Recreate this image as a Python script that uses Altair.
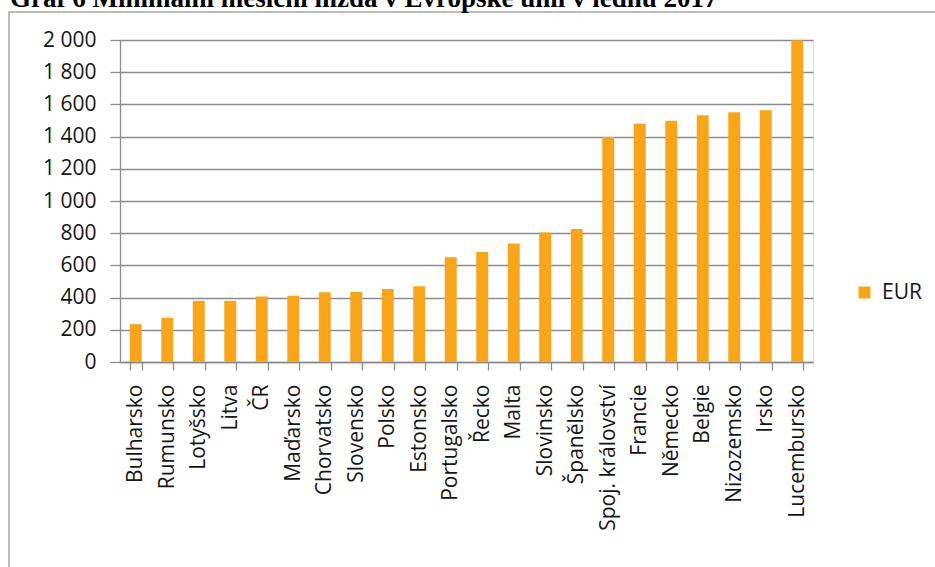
import altair as alt
import pandas as pd

# Minimum monthly wage in EU member states, January 2017 (EUR)
countries = [
    "Bulharsko", "Rumunsko", "Lotyšsko", "Litva", "ČR", "Maďarsko",
    "Chorvatsko", "Slovensko", "Polsko", "Estonsko", "Portugalsko", "Řecko",
    "Malta", "Slovinsko", "Španělsko", "Spoj. království", "Francie",
    "Německo", "Belgie", "Nizozemsko", "Irsko", "Lucembursko",
]
wages = [
    235, 275, 380, 380, 407, 412,
    433, 435, 453, 470, 650, 684,
    736, 805, 826, 1397, 1480,
    1498, 1532, 1552, 1563, 1999,
]
series_name = "EUR"
y_ticks = [0, 200, 400, 600, 800, 1000, 1200, 1400, 1600, 1800, 2000]
title_text = "Graf 6 Minimální měsíční mzda v Evropské unii v lednu 2017"

ORANGE = "#f8a51c"
GRID = "#8c8c8c"
FONT = "Open Sans"
TEXT = "#161616"

df = pd.DataFrame({"stat": countries, "mzda": wages, "rada": series_name})

W, H = 693, 322

bars = alt.Chart(df).mark_bar(color=ORANGE).encode(
    x=alt.X(
        "stat:N",
        sort=None,
        title=None,
        scale=alt.Scale(paddingInner=0.62, paddingOuter=0.31),
        axis=alt.Axis(
            labelAngle=270,
            labelFont=FONT,
            labelFontSize=21,
            labelColor=TEXT,
            labelPadding=14,
            labelOverlap=False,
            labelLimit=300,
            tickBand="extent",
            tickSize=8,
            tickColor=GRID,
            domainColor=GRID,
            domainWidth=1.3,
            tickWidth=1.3,
            grid=False,
        ),
    ),
    y=alt.Y(
        "mzda:Q",
        title=None,
        scale=alt.Scale(domain=[0, 2000], nice=False),
        axis=alt.Axis(
            values=y_ticks,
            labelExpr="replace(format(datum.value, ','), ',', ' ')",
            labelFont=FONT,
            labelFontSize=21,
            labelColor=TEXT,
            labelPadding=14,
            tickSize=10,
            tickColor=GRID,
            tickWidth=1.3,
            domainColor=GRID,
            domainWidth=1.3,
            grid=True,
            gridColor=GRID,
            gridWidth=1.3,
        ),
    ),
    color=alt.Color(
        "rada:N",
        scale=alt.Scale(domain=[series_name], range=[ORANGE]),
        legend=alt.Legend(
            title=None,
            orient="none",
            legendX=734,
            legendY=242,
            padding=0,
            symbolType="square",
            symbolSize=144,
            symbolStrokeWidth=0,
            labelFont=FONT,
            labelFontSize=21,
            labelColor=TEXT,
            labelOffset=7,
        ),
    ),
)

one_row = alt.Data(values=[{"k": 1}])

# page heading sitting above the chart frame
heading = alt.Chart(one_row).mark_text(
    text=title_text,
    font="Liberation Serif",
    fontWeight="bold",
    fontSize=27,
    align="left",
    baseline="alphabetic",
    color="#000000",
).encode(x=alt.value(-110), y=alt.value(-33))

# thin frame around the chart object
frame = alt.Chart(one_row).mark_rect(
    fill="transparent", stroke="#a6a6a6", strokeWidth=1.5
).encode(
    x=alt.value(-111), x2=alt.value(900), y=alt.value(-28), y2=alt.value(600)
)

chart = alt.layer(frame, bars, heading).properties(
    width=W,
    height=H,
    padding={"left": 120, "top": 40, "right": 935 - 120 - W, "bottom": 567 - 40 - H},
    autosize=alt.AutoSizeParams(type="none"),
).configure_view(stroke=None).configure(background="white")

chart.save("out.html", embed_options={"renderer": "svg", "actions": False})
